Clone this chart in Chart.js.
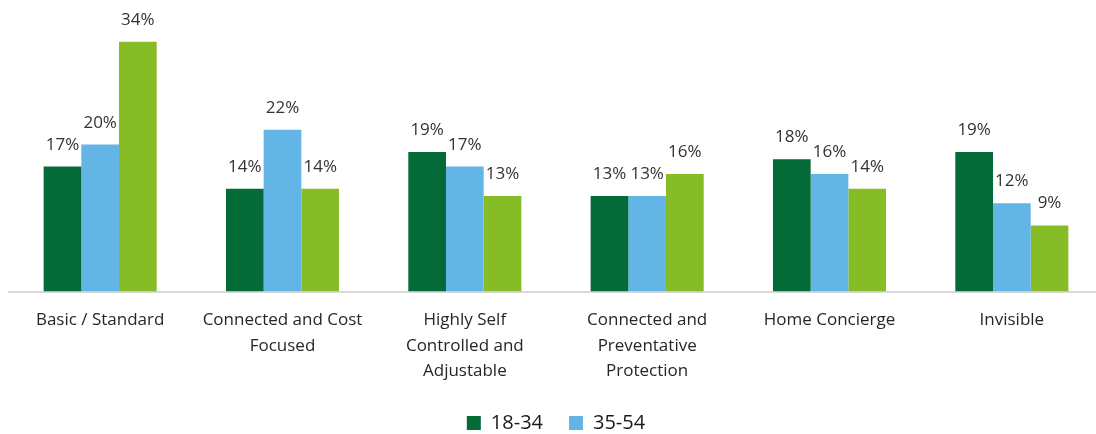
<!DOCTYPE html>
<html>
<head>
<meta charset="utf-8">
<script src="https://cdn.jsdelivr.net/npm/chart.js@4/dist/chart.umd.min.js"></script>
<style>
  html, body { margin: 0; padding: 0; background: #fff; overflow: hidden; }
  #wrap { width: 1103px; height: 434px; position: relative; }
</style>
</head>
<body>
<div id="wrap"><canvas id="c"></canvas></div>
<script>
// Preferred home profiles by age group (share of respondents, %)
const categories = [
  ["Basic / Standard"],
  ["Connected and Cost", "Focused"],
  ["Highly Self", "Controlled and", "Adjustable"],
  ["Connected and", "Preventative", "Protection"],
  ["Home Concierge"],
  ["Invisible"]
];
const age18to34 = [17, 14, 19, 13, 18, 19];
const age35to54 = [20, 22, 17, 13, 16, 12];
const age55plus = [34, 14, 13, 16, 14, 9];

const FONT = "'Open Sans', sans-serif";

// Percent labels above each bar
const valueLabels = {
  id: 'valueLabels',
  afterDatasetsDraw(chart) {
    const ctx = chart.ctx;
    ctx.save();
    ctx.font = `17px ${FONT}`;
    ctx.fillStyle = '#333333';
    ctx.textAlign = 'center';
    ctx.textBaseline = 'alphabetic';
    chart.data.datasets.forEach((ds, i) => {
      const meta = chart.getDatasetMeta(i);
      meta.data.forEach((bar, j) => {
        ctx.fillText(ds.data[j] + '%', bar.x, bar.y - 17);
      });
    });
    ctx.restore();
  }
};

// Tighter legend block: keep wide item spacing but less vertical room
const compactLegend = {
  id: 'compactLegend',
  afterInit(chart) {
    const legend = chart.legend;
    if (!legend) return;
    const fit = legend.fit.bind(legend);
    legend.fit = function () {
      fit();
      this.height = Math.max(0, this.height - 22);
    };
  },
  afterLayout(chart) {
    if (chart.legend) chart.legend.top -= 13;
  }
};

new Chart(document.getElementById('c'), {
  type: 'bar',
  data: {
    labels: categories,
    datasets: [
      { label: '18-34', data: age18to34, backgroundColor: '#046A38' },
      { label: '35-54', data: age35to54, backgroundColor: '#62B5E5' },
      { label: '55+',   data: age55plus, backgroundColor: '#86BC25' }
    ]
  },
  options: {
    responsive: true,
    maintainAspectRatio: false,
    animation: false,
    datasets: { bar: { barPercentage: 1, categoryPercentage: 0.62 } },
    layout: { padding: { top: 27, left: 9, right: 0, bottom: 0 } },
    scales: {
      x: {
        grid: { display: false, drawTicks: false },
        border: { display: true, color: '#D9D9D9', width: 2 },
        ticks: {
          padding: 16,
          color: '#262626',
          font: { family: FONT, size: 17, lineHeight: 1.5 },
          maxRotation: 0,
          autoSkip: false
        }
      },
      y: {
        display: false,
        min: 0,
        max: 36
      }
    },
    plugins: {
      tooltip: { enabled: false },
      legend: {
        position: 'bottom',
        labels: {
          filter: (item) => item.datasetIndex < 2,
          boxWidth: 14,
          boxHeight: 14,
          padding: 26,
          color: '#1a1a1a',
          font: { family: FONT, size: 20 }
        }
      }
    }
  },
  plugins: [valueLabels, compactLegend]
});
</script>
</body>
</html>
